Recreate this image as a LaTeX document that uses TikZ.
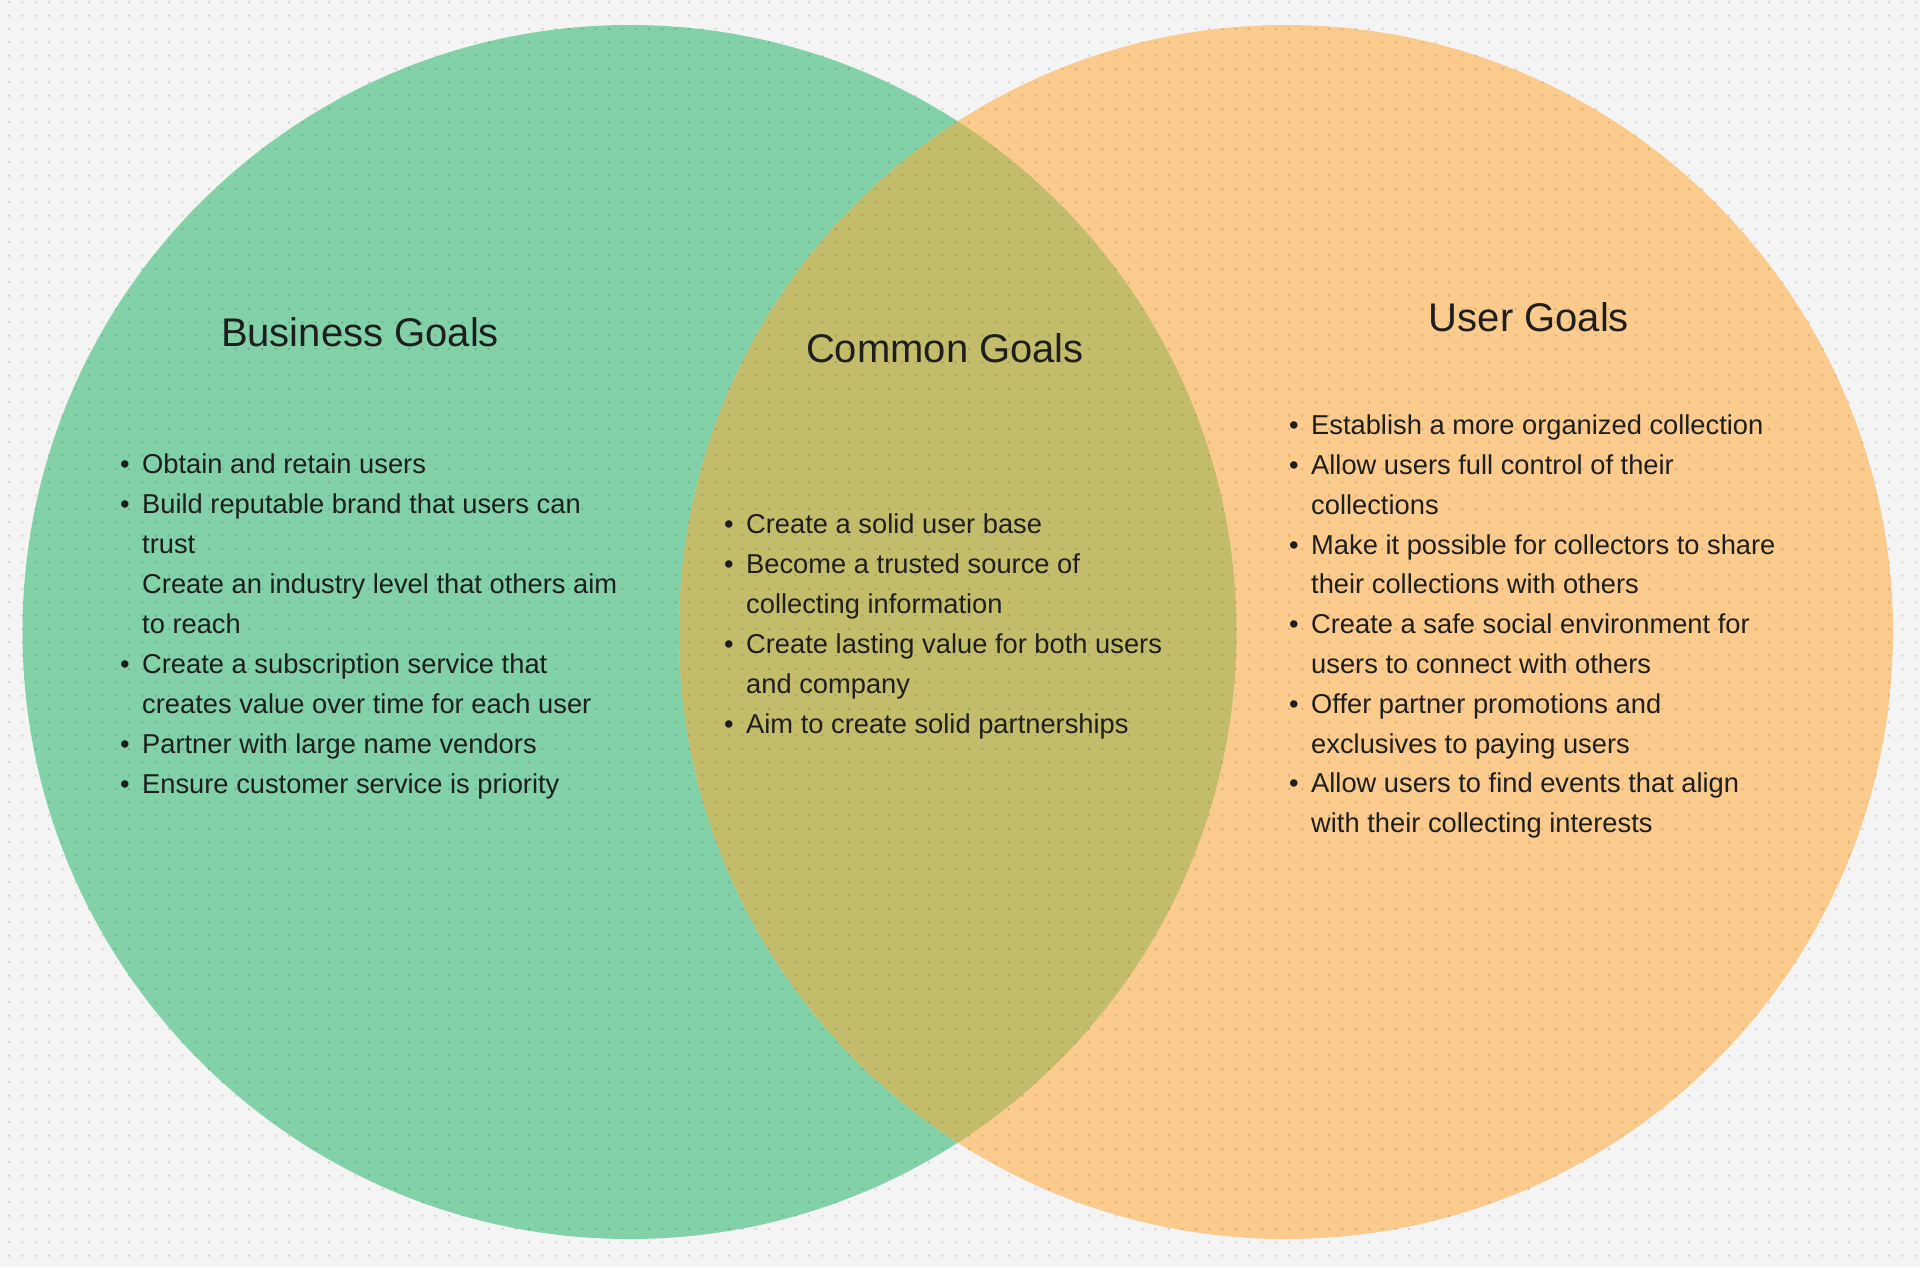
\documentclass[tikz,border=0pt]{standalone}
\usepackage{fontspec}
\setmainfont{Liberation Sans}
\definecolor{bgc}{HTML}{F4F4F4}
\definecolor{greenc}{HTML}{82D1A9}
\definecolor{orangec}{HTML}{FACB8C}
\definecolor{lensc}{HTML}{C3BD6B}
\definecolor{txtc}{HTML}{1E1E1E}
\newcommand\bl{\llap{\textbullet\hspace{12.5pt}}}
\tikzset{
  title/.style={inner sep=0pt, anchor=center, text=txtc, font=\fontsize{40}{46}\selectfont},
  item/.style={inner sep=0pt, anchor=mid west, text=txtc, font=\fontsize{27.3}{40}\selectfont},
  dotc/.style={fill=black, fill opacity=0.14}
}
\begin{document}
\begin{tikzpicture}[x=1pt,y=-1pt]
\useasboundingbox (0,0) rectangle (1920,1267);
\fill[bgc] (0,0) rectangle (1920,1267);
\coordinate (L) at (629.5,632);
\coordinate (R) at (1286,632);
\fill[greenc] (L) circle (607);
\fill[orangec] (R) circle (607);
\begin{scope}
  \clip (L) circle (607);
  \fill[lensc] (R) circle (607);
\end{scope}
% dot grid
\foreach \j in {0,...,94}{
  \fill[dotc] foreach \i in {0,...,143} {({8+13.333*\i},{1.3+13.333*\j}) rectangle ++(2,2)};
}
% titles
\node[title] (tb) at (360,332) {Business Goals};
\node[title] (tc) at (945,348) {Common Goals};
\node[title] (tu) at (1529,317) {User Goals};
% business list
\foreach \t [count=\k] in {
  {\bl Obtain and retain users},
  {\bl Build reputable brand that users can},
  {trust},
  {Create an industry level that others aim},
  {to reach},
  {\bl Create a subscription service that},
  {creates value over time for each user},
  {\bl Partner with large name vendors},
  {\bl Ensure customer service is priority}}
  \node[item] (b\k) at (142,{471+39.95*(\k-1)}) {\t};
% common list
\foreach \t [count=\k] in {
  {\bl Create a solid user base},
  {\bl Become a trusted source of},
  {collecting information},
  {\bl Create lasting value for both users},
  {and company},
  {\bl Aim to create solid partnerships}}
  \node[item] (c\k) at (746,{531+39.95*(\k-1)}) {\t};
% user list
\foreach \t [count=\k] in {
  {\bl Establish a more organized collection},
  {\bl Allow users full control of their},
  {collections},
  {\bl Make it possible for collectors to share},
  {their collections with others},
  {\bl Create a safe social environment for},
  {users to connect with others},
  {\bl Offer partner promotions and},
  {exclusives to paying users},
  {\bl Allow users to find events that align},
  {with their collecting interests}}
  \node[item] (u\k) at (1311,{432+39.8*(\k-1)}) {\t};
\end{tikzpicture}
\end{document}
